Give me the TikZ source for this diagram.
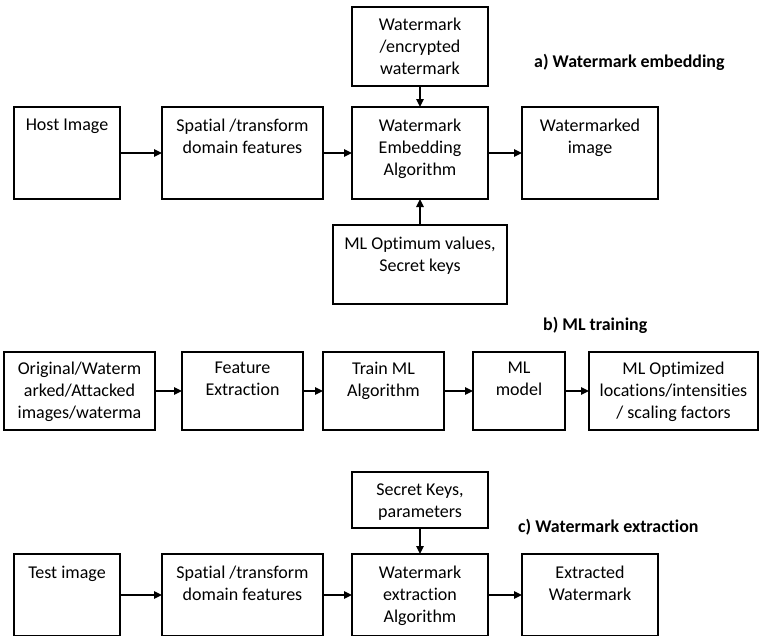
\documentclass[tikz,border=0pt]{standalone}
\usepackage{fontspec}
\setmainfont{Carlito}[Ligatures=NoCommon]
\usetikzlibrary{arrows.meta}
\begin{document}
\begin{tikzpicture}[x=1pt,y=-1pt,
  blk/.style={draw=black, line width=1.4pt, inner sep=0pt, outer sep=0pt},
  lbl/.style={anchor=north, inner sep=0pt, align=center,
    font=\fontsize{18}{21.9}\selectfont},
  ttl/.style={anchor=west, inner sep=0pt,
    font=\fontsize{17.9}{21}\selectfont\bfseries},
  flow/.style={line width=1.4pt, -{Triangle[length=8pt,width=7.5pt]}}]
\useasboundingbox (0,0) rectangle (759,635);
\clip (0,0) rectangle (759,635);

% ---------- a) Watermark embedding ----------
\node[blk, minimum width=136pt, minimum height=79pt] (wm)   at (420,46.5) {};
\node[blk, minimum width=106pt, minimum height=92pt] (host) at (67,153) {};
\node[blk, minimum width=161pt, minimum height=92pt] (spa)  at (242.5,153) {};
\node[blk, minimum width=136pt, minimum height=92pt] (emb)  at (420,153) {};
\node[blk, minimum width=136pt, minimum height=92pt] (wmd)  at (590,153) {};
\node[blk, minimum width=174pt, minimum height=79pt] (mlo)  at (420,264.5) {};

\node[lbl] (wmT)   at ([yshift=-11pt]wm.north)   {Watermark\\/encrypted\\watermark};
\node[lbl] (hostT) at ([yshift=-11.5pt]host.north) {Host Image};
\node[lbl] (spaT)  at ([yshift=-11.5pt]spa.north)  {Spatial /transform\\domain features};
\node[lbl] (embT)  at ([yshift=-11.5pt]emb.north)  {Watermark\\Embedding\\Algorithm};
\node[lbl] (wmdT)  at ([yshift=-11.5pt]wmd.north)  {Watermarked\\image};
\node[lbl] (mloT)  at ([yshift=-12pt]mlo.north)  {ML Optimum values,\\Secret keys};

\node[ttl] (ta) at (534,62) {a) Watermark embedding};

\draw[flow] (host) -- (spa);
\draw[flow] (spa) -- (emb);
\draw[flow] (emb) -- (wmd);
\draw[flow] (wm) -- (emb);
\draw[flow] (mlo) -- (emb);

% ---------- b) ML training ----------
\node[blk, minimum width=151pt, minimum height=78pt] (orig)  at (79.5,391) {};
\node[blk, minimum width=121pt, minimum height=78pt] (fe)    at (242.5,391) {};
\node[blk, minimum width=121pt, minimum height=78pt] (tr)    at (383.5,391) {};
\node[blk, minimum width=92pt,  minimum height=78pt] (mlm)   at (519,391) {};
\node[blk, minimum width=169pt, minimum height=78pt] (mlopt) at (673.5,391) {};

\node[lbl] (origT)  at ([yshift=-10pt]orig.north)  {Original/Waterm\\arked/Attacked\\images/waterma};
\node[lbl] (feT)    at ([yshift=-10pt]fe.north)    {Feature\\Extraction};
\node[lbl] (trT)    at ([yshift=-10pt]tr.north)    {Train ML\\Algorithm};
\node[lbl] (mlmT)   at ([yshift=-10pt]mlm.north)   {ML\\model};
\node[lbl] (mloptT) at ([yshift=-10pt]mlopt.north) {ML Optimized\\locations/intensities\\/ scaling factors};

\node[ttl] (tb) at (543,325) {b) ML training};

\draw[flow] (orig) -- (fe);
\draw[flow] (fe) -- (tr);
\draw[flow] (tr) -- (mlm);
\draw[flow] (mlm) -- (mlopt);

% ---------- c) Watermark extraction ----------
\node[blk, minimum width=136pt, minimum height=56pt] (sk)   at (420,500) {};
\node[blk, minimum width=106pt, minimum height=82pt] (test) at (67,595) {};
\node[blk, minimum width=161pt, minimum height=82pt] (spc)  at (242.5,595) {};
\node[blk, minimum width=136pt, minimum height=82pt] (ext)  at (420,595) {};
\node[blk, minimum width=136pt, minimum height=82pt] (exw)  at (590,595) {};

\node[lbl] (skT)   at ([yshift=-12pt]sk.north)   {Secret Keys,\\parameters};
\node[lbl] (testT) at ([yshift=-11.5pt]test.north) {Test image};
\node[lbl] (spcT)  at ([yshift=-11.5pt]spc.north)  {Spatial /transform\\domain features};
\node[lbl] (extT)  at ([yshift=-11.5pt]ext.north)  {Watermark\\extraction\\Algorithm};
\node[lbl] (exwT)  at ([yshift=-11.5pt]exw.north)  {Extracted\\Watermark};

\node[ttl] (tc) at (518,527) {c) Watermark extraction};

\draw[flow] (test) -- (spc);
\draw[flow] (spc) -- (ext);
\draw[flow] (ext) -- (exw);
\draw[flow] (sk) -- (ext);
\end{tikzpicture}
\end{document}
